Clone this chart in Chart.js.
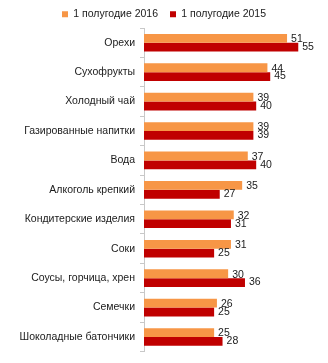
<!DOCTYPE html>
<html>
<head>
<meta charset="utf-8">
<script src="https://cdn.jsdelivr.net/npm/chart.js@4/dist/chart.umd.min.js"></script>
<style>
  html, body { margin: 0; padding: 0; background: #fff; }
  #wrap { width: 328px; height: 363px; }
</style>
</head>
<body>
<div id="wrap"><canvas id="c" width="328" height="363"></canvas></div>
<script>
// категории и значения
const CATEGORIES = ['Орехи', 'Сухофрукты', 'Холодный чай', 'Газированные напитки', 'Вода',
  'Алкоголь крепкий', 'Кондитерские изделия', 'Соки', 'Соусы, горчица, хрен', 'Семечки',
  'Шоколадные батончики'];
const H1_2016 = [51, 44, 39, 39, 37, 35, 32, 31, 30, 26, 25];
const H1_2015 = [55, 45, 40, 39, 40, 27, 31, 25, 36, 25, 28];
const SERIES_NAMES = ['1 полугодие 2016', '1 полугодие 2015'];

const FONT = '"Liberation Sans", Arial, sans-serif';
const TEXT = '#1a1a1a';

// подписи значений справа от столбцов
const valueLabels = {
  id: 'valueLabels',
  afterDatasetsDraw(chart) {
    const ctx = chart.ctx;
    ctx.save();
    ctx.font = '10.5px ' + FONT;
    ctx.fillStyle = TEXT;
    ctx.textBaseline = 'middle';
    chart.data.datasets.forEach((ds, i) => {
      chart.getDatasetMeta(i).data.forEach((bar, j) => {
        ctx.fillText(ds.data[j], bar.x + 4, bar.y + (i === 0 ? 1 : 0));
      });
    });
    ctx.restore();
  },
};

// высота легенды
const legendHeight = {
  id: 'legendHeight',
  beforeInit(chart) {
    const fit = chart.legend.fit;
    chart.legend.fit = function () { fit.bind(chart.legend)(); this.height = 31; };
  },
};

new Chart(document.getElementById('c'), {
  type: 'bar',
  data: {
    labels: CATEGORIES,
    datasets: [
      { label: SERIES_NAMES[0], data: H1_2016, backgroundColor: '#F79646' },
      { label: SERIES_NAMES[1], data: H1_2015, backgroundColor: '#C00000' },
    ],
  },
  options: {
    indexAxis: 'y',
    responsive: false, animation: false,
    layout: { padding: { top: -3, right: 0, bottom: 8, left: 0 } },
    plugins: {
      legend: {
        position: 'top',
        labels: { boxWidth: 6, boxHeight: 6, padding: 12, color: TEXT, font: { family: FONT, size: 10.5 } },
      },
      tooltip: { enabled: false },
    },
    datasets: { bar: { barPercentage: 1, categoryPercentage: 0.6 } },
    scales: {
      x: { display: false, min: 0, max: 65.6 },
      y: {
        afterFit: s => { s.width = 144; },
        ticks: { color: TEXT, padding: 5, font: { family: FONT, size: 10.5 } },
        grid: { drawOnChartArea: false, offset: true, tickLength: 4, color: '#c8c8c8' },
        border: { color: '#c8c8c8' },
      },
    },
  },
  plugins: [valueLabels, legendHeight],
});
</script>
</body>
</html>
